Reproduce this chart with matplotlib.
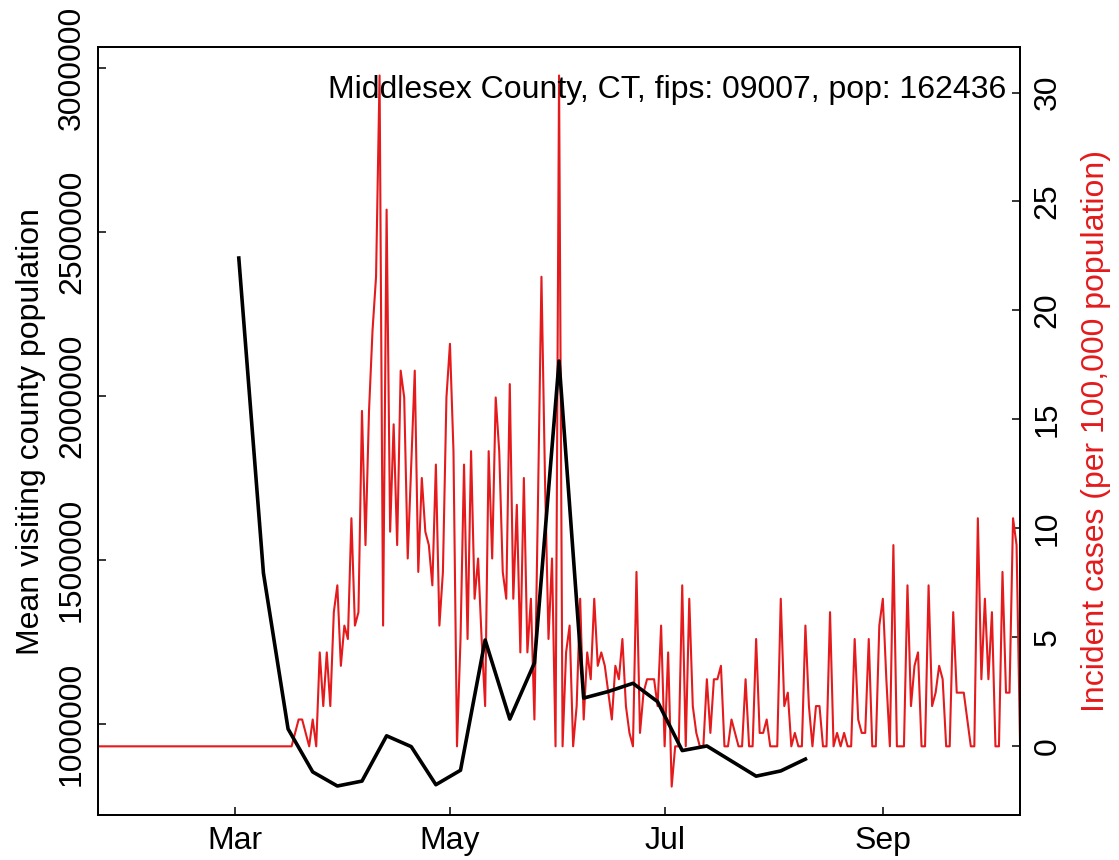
"""
Weekly mean visiting county population vs daily incident cases, Middlesex County CT
"""
import numpy as np
import pandas as pd
import matplotlib
matplotlib.use('Agg')
import matplotlib.pyplot as plt
import matplotlib.dates as mdates

plt.rcParams['font.family'] = ['Liberation Sans', 'DejaVu Sans']

# county info
county_label = 'Middlesex County, CT, fips: 09007, pop: 162436'
population = 162436

# weekly mean visiting county population (weeks starting Mon 2020-03-02)
week_start = '2020-03-02'
visiting_pop = [2421000, 1461000, 986000, 855000, 812000, 827000, 965000, 932000,
                816000, 860000, 1257000, 1016000, 1187000, 2107000, 1080000, 1100000,
                1125000, 1069000, 920000, 934000, 888000, 842000, 858000, 894000]

# daily new cases (counts) from 2020-01-22
case_start = '2020-01-22'
daily_cases = [0] * 56 + [
    1, 2, 2, 1, 0, 2, 0, 7, 3, 7, 3, 10, 12, 6, 9, 8, 17, 9, 10, 25,
    15, 25, 31, 35, 50, 9, 40, 16, 24, 15, 28, 26, 14, 21, 28, 13, 20, 16, 15, 12,
    21, 9, 13, 26, 30, 22, 0, 8, 21, 8, 22, 11, 14, 8, 3, 22, 14, 26, 22, 13,
    11, 27, 11, 18, 7, 20, 7, 11, 2, 18, 35, 20, 8, 14, 0, 50, 0, 7, 9, 0,
    3, 11, 2, 7, 5, 11, 6, 7, 6, 4, 2, 6, 5, 8, 3, 1, 0, 13, 1, 4,
    5, 5, 5, 3, 9, 0, 7, -3, 0, 0, 12, 0, 11, 3, 1, 0, 0, 5, 1, 5,
    5, 6, 0, 0, 2, 1, 0, 0, 5, 0, 0, 8, 1, 1, 2, 0, 0, 0, 11, 3,
    4, 0, 1, 0, 0, 9, 3, 0, 3, 3, 0, 0, 10, 0, 1, 0, 1, 0, 0, 8,
    2, 1, 1, 8, 0, 0, 9, 11, 5, 0, 15, 0, 0, 0, 12, 3, 6, 7, 0, 0,
    12, 3, 4, 6, 5, 0, 0, 10, 4, 4, 4, 2, 0, 0, 17, 5, 11, 5, 10, 0,
    0, 13, 4, 4, 17, 15, 0]

week_dates = pd.date_range(week_start, periods=len(visiting_pop), freq='7D')
case_dates = pd.date_range(case_start, periods=len(daily_cases), freq='D')
incidence = np.array(daily_cases) / population * 1e5

red = '#E41A1C'
fs = 23

fig = plt.figure(figsize=(11.19, 8.6), dpi=100)
ax = fig.add_axes([0.0876, 0.0523, 0.8240, 0.8930])
ax2 = ax.twinx()

# red incident cases (right axis)
ax2.plot(case_dates, incidence, color=red, linewidth=1.5)
lo, hi = incidence.min(), incidence.max()
pad = 0.04 * (hi - lo)
ax2.set_ylim(lo - pad, hi + pad)
ax2.set_yticks([0, 5, 10, 15, 20, 25, 30])
ax2.set_ylabel('Incident cases (per 100,000 population)', color=red, fontsize=fs,
               labelpad=13)

# black weekly line (left axis), drawn above the red one
ax.plot(week_dates, visiting_pop, color='black', linewidth=2.6)
ax.set_zorder(ax2.get_zorder() + 1)
ax.patch.set_visible(False)
ax.set_ylim(723600, 3064000)
ax.set_yticks([1000000, 1500000, 2000000, 2500000, 3000000])
ax.set_yticklabels(['1000000', '1500000', '2000000', '2500000', '3000000'])
ax.set_ylabel('Mean visiting county population', fontsize=fs, labelpad=8)

ax.set_xlim(case_dates[0], case_dates[-1])
ax.set_xticks(pd.to_datetime(['2020-03-01', '2020-05-01', '2020-07-01', '2020-09-01']))
ax.xaxis.set_major_formatter(mdates.DateFormatter('%b'))

for a in (ax, ax2):
    a.tick_params(direction='in', length=6, width=1.1, labelsize=fs)
    for s in a.spines.values():
        s.set_linewidth(1.3)
ax.tick_params(axis='y', pad=8)
ax.tick_params(axis='x', pad=8)
ax2.tick_params(axis='y', pad=9)
for lab in ax.get_yticklabels():
    lab.set_rotation(90)
    lab.set_va('center')
for lab in ax2.get_yticklabels():
    lab.set_rotation(90)
    lab.set_va('center')

ax.text(0.985, 0.944, county_label, transform=ax.transAxes, ha='right', va='center',
        fontsize=fs)

fig.savefig('out.png', dpi=100)
